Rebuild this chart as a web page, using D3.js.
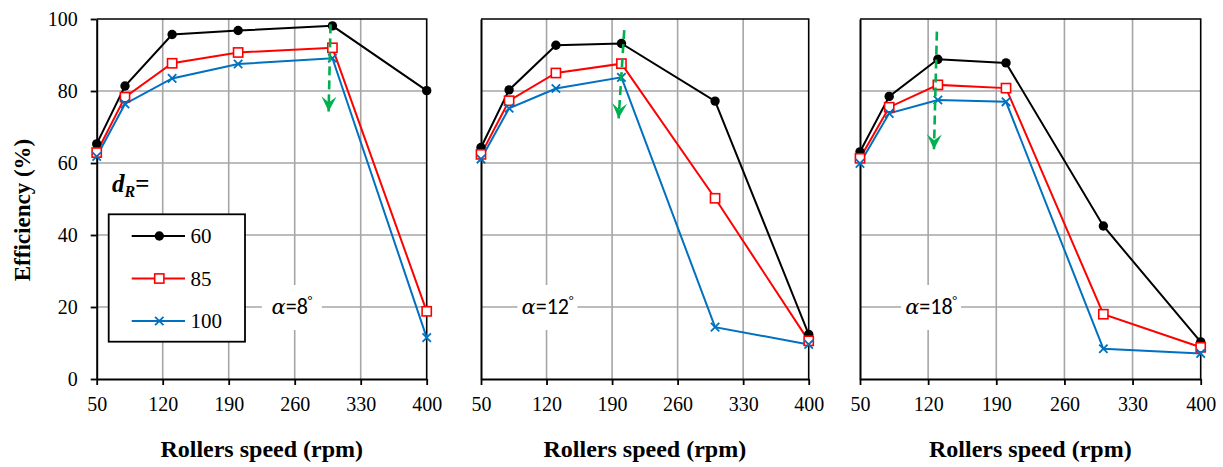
<!DOCTYPE html>
<html><head><meta charset="utf-8">
<script src="https://cdn.jsdelivr.net/npm/d3@7"></script>
<style>
html,body{margin:0;padding:0;background:#fff;}
svg{display:block;}
</style></head>
<body>
<svg id="c" width="1223" height="467"></svg>
<script>
// ---------- data ----------
const speeds = [50, 80, 130, 200, 300, 400];
const xTicks = [50, 120, 190, 260, 330, 400];
const yTicks = [0, 20, 40, 60, 80, 100];
const angles = ["8", "12", "18"];
const diameters = ["60", "85", "100"];

const a8_d60  = [65.3, 81.4, 95.7, 96.8, 98.1, 80.1];
const a8_d85  = [62.9, 78.3, 87.7, 90.7, 92.0, 18.8];
const a8_d100 = [61.8, 76.4, 83.5, 87.5, 89.1, 11.5];

const a12_d60  = [64.3, 80.3, 92.7, 93.2, 77.2, 12.4];
const a12_d85  = [62.4, 77.3, 85.0, 87.6, 50.2, 10.6];
const a12_d100 = [61.1, 75.2, 80.7, 83.8, 14.4, 9.6];

const a18_d60  = [63.1, 78.5, 88.8, 87.8, 42.5, 10.3];
const a18_d85  = [61.3, 75.5, 81.7, 80.8, 18.0, 8.8];
const a18_d100 = [59.9, 73.8, 77.5, 77.0, 8.4, 7.1];

// green arrows: start speed, end speed, start efficiency, end efficiency
const arrowSpeedStart = [298, 203, 129];
const arrowSpeedEnd   = [296, 197, 126];
const arrowEffStart   = [98.5, 96.9, 96.5];
const arrowEffEnd     = [74.3, 72.4, 63.8];

// alpha label anchor (speed, efficiency)
const labelSpeed = [257, 121, 123];
const labelEff = [20, 20, 20];

// ---------- layout ----------
const panels = [
  {left: 96.7, right: 426.7, data: [a8_d60, a8_d85, a8_d100]},
  {left: 481, right: 808.7, data: [a12_d60, a12_d85, a12_d100]},
  {left: 860, right: 1200.7, data: [a18_d60, a18_d85, a18_d100]}
];
const plotTop = 19, plotBottom = 379;
const colors = ["#000000", "#ff0000", "#0070c0"];
const serifFont = "Liberation Serif, Times New Roman, serif";

const svg = d3.select("#c");
const defs = svg.append("defs");
defs.append("marker").attr("id", "stealth")
  .attr("viewBox", "-16 -9 18 18").attr("markerWidth", 18).attr("markerHeight", 18)
  .attr("refX", 0).attr("refY", 0).attr("markerUnits", "userSpaceOnUse")
  .attr("orient", "auto")
  .append("path").attr("d", "M0,0 L-15,-7.5 L-9,0 L-15,7.5 Z").attr("fill", "#00b050");

const y = d3.scaleLinear().domain([0, 100]).range([plotBottom, plotTop]);

function drawMarker(g, type, cx, cy, color) {
  if (type === 0) {
    g.append("circle").attr("cx", cx).attr("cy", cy).attr("r", 4.7).attr("fill", color);
  } else if (type === 1) {
    g.append("rect").attr("x", cx - 4.6).attr("y", cy - 4.6).attr("width", 9.2).attr("height", 9.2)
      .attr("fill", "#fff").attr("stroke", color).attr("stroke-width", 1.6);
  } else {
    const s = 4.2;
    g.append("path").attr("d", `M${cx - s},${cy - s}L${cx + s},${cy + s}M${cx - s},${cy + s}L${cx + s},${cy - s}`)
      .attr("stroke", color).attr("stroke-width", 1.8).attr("fill", "none");
  }
}

panels.forEach((p, pi) => {
  const x = d3.scaleLinear().domain([50, 400]).range([p.left, p.right]);
  const g = svg.append("g");

  // gridlines
  g.append("g").selectAll("line").data(xTicks.slice(1, -1)).join("line")
    .attr("x1", d => x(d)).attr("x2", d => x(d)).attr("y1", plotTop).attr("y2", plotBottom)
    .attr("stroke", "#a6a6a6").attr("stroke-width", 1.6);
  g.append("g").selectAll("line").data(yTicks.slice(1, -1)).join("line")
    .attr("x1", p.left).attr("x2", p.right).attr("y1", d => y(d)).attr("y2", d => y(d))
    .attr("stroke", "#a6a6a6").attr("stroke-width", 1.6);

  // frame top/right
  g.append("path").attr("d", `M${p.left},${plotTop}H${p.right}V${plotBottom}`)
    .attr("fill", "none").attr("stroke", "#000").attr("stroke-width", 1.6);

  // x axis
  const xa = g.append("g").attr("transform", `translate(0,${plotBottom})`)
    .call(d3.axisBottom(x).tickValues(xTicks).tickSize(6).tickSizeOuter(0).tickPadding(12));
  xa.attr("font-family", serifFont).attr("font-size", 20);
  xa.select(".domain").attr("stroke-width", 2);
  xa.selectAll(".tick line").attr("stroke-width", 1.8);
  xa.selectAll("text").attr("fill", "#000");

  // y axis
  const ya = g.append("g").attr("transform", `translate(${p.left},0)`)
    .call(d3.axisLeft(y).tickValues(yTicks).tickSize(pi === 0 ? 6 : 0).tickSizeOuter(0).tickPadding(13));
  ya.attr("font-family", serifFont).attr("font-size", 20);
  ya.select(".domain").attr("stroke-width", 2);
  ya.selectAll(".tick line").attr("stroke-width", 1.8);
  if (pi === 0) {
    ya.selectAll("text").attr("fill", "#000");
  } else {
    ya.selectAll("text").remove();
  }

  // alpha label with white background
  const lx = x(labelSpeed[pi]), ly = y(labelEff[pi]);
  g.append("rect").attr("x", lx - 30).attr("y", ly - 22).attr("width", 60).attr("height", 45).attr("fill", "#fff");
  const t = g.append("text").attr("x", lx).attr("y", ly + 7).attr("text-anchor", "middle")
    .attr("font-family", "Carlito, Lato, sans-serif").attr("font-size", 22).attr("fill", "#000");
  t.append("tspan").attr("font-family", "DejaVu Serif, serif").attr("font-style", "italic").attr("font-size", 21).text("α");
  t.append("tspan").text("=" + angles[pi]);
  t.append("tspan").attr("font-size", 13).attr("dy", -9).text("°");

  // series
  const line = d3.line().x((d, i) => x(speeds[i])).y(d => y(d));
  p.data.forEach((vals, si) => {
    g.append("path").datum(vals).attr("d", line).attr("fill", "none")
      .attr("stroke", colors[si]).attr("stroke-width", 2);
  });
  p.data.forEach((vals, si) => {
    vals.forEach((v, i) => drawMarker(g, si, x(speeds[i]), y(v), colors[si]));
  });

  // arrow
  g.append("line")
    .attr("x1", x(arrowSpeedStart[pi])).attr("y1", y(arrowEffStart[pi]))
    .attr("x2", x(arrowSpeedEnd[pi])).attr("y2", y(arrowEffEnd[pi]))
    .attr("stroke", "#00b050").attr("stroke-width", 2.6).attr("stroke-dasharray", "9,5")
    .attr("marker-end", "url(#stealth)");

  // x title
  g.append("text").attr("x", (p.left + p.right) / 2).attr("y", 457).attr("text-anchor", "middle")
    .attr("font-family", serifFont).attr("font-weight", "bold").attr("font-size", 24).text("Rollers speed (rpm)");
});

// y title
svg.append("text").attr("transform", "translate(30,210) rotate(-90)").attr("text-anchor", "middle")
  .attr("font-family", serifFont).attr("font-weight", "bold").attr("font-size", 23).text("Efficiency (%)");

// legend
const dr = svg.append("text").attr("x", 112).attr("y", 192).attr("font-family", serifFont)
  .attr("font-weight", "bold").attr("font-size", 25);
dr.append("tspan").attr("font-style", "italic").text("d");
dr.append("tspan").attr("font-style", "italic").attr("font-size", 16).attr("dy", 5).text("R");
dr.append("tspan").attr("dy", -5).text("=");

const lg = svg.append("g");
lg.append("rect").attr("x", 108.7).attr("y", 214.3).attr("width", 136.3).attr("height", 127.4)
  .attr("fill", "#fff").attr("stroke", "#000").attr("stroke-width", 1.8);
const legY = d3.scalePoint().domain(diameters).range([236, 321]);
diameters.forEach((d, i) => {
  const yy = legY(d);
  lg.append("line").attr("x1", 131.7).attr("x2", 185).attr("y1", yy).attr("y2", yy)
    .attr("stroke", colors[i]).attr("stroke-width", 2);
  drawMarker(lg, i, 159.3, yy, colors[i]);
  lg.append("text").attr("x", 190.5).attr("y", yy + 7).attr("font-family", serifFont).attr("font-size", 21).text(d);
});
</script>
</body></html>
